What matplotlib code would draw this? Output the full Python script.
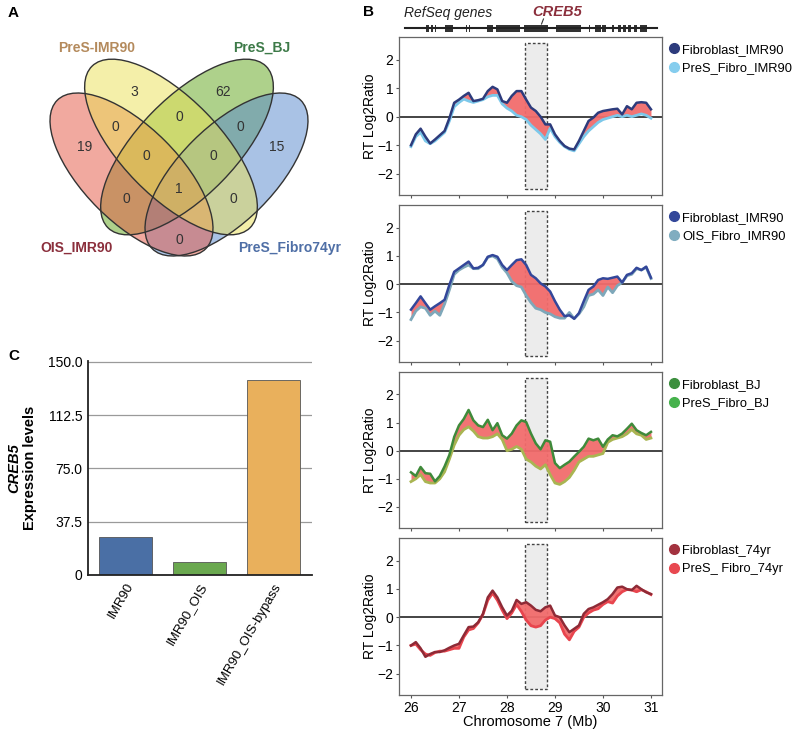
import numpy as np
import matplotlib.pyplot as plt
from matplotlib.patches import Ellipse, Rectangle
from matplotlib.lines import Line2D

plt.rcParams['font.family'] = ['Liberation Sans', 'DejaVu Sans']

# ---------------- Panel A: Venn counts ----------------
venn_names = ['PreS-IMR90', 'PreS_BJ', 'OIS_IMR90', 'PreS_Fibro74yr']
venn_counts = [3, 62, 0, 0, 0, 19, 0, 0, 15, 1, 0, 0, 0]

# ---------------- Panel C: CREB5 expression ----------------
bar_labels = ['IMR90', 'IMR90_OIS', 'IMR90_OIS-bypass']
bar_values = [27.0, 9.0, 137.3]

# ---------------- Panel B: replication timing ----------------
chrom_pos = np.linspace(26, 31, 51)

fibro_imr90_a = [-1.0, -0.62, -0.42, -0.7, -0.94, -0.8, -0.65, -0.5, -0.05, 0.49,
                 0.6, 0.73, 0.84, 0.55, 0.58, 0.63, 0.9, 1.05, 0.96, 0.55,
                 0.49, 0.73, 0.9, 0.9, 0.6, 0.32, 0.2, 0.0, -0.27, -0.27,
                 -0.62, -0.85, -1.03, -1.12, -1.15, -0.85, -0.5, -0.15, -0.03, 0.14,
                 0.2, 0.23, 0.26, 0.28, 0.08, 0.37, 0.26, 0.49, 0.51, 0.49, 0.26]
pres_imr90 = [-1.05, -0.7, -0.55, -0.85, -0.95, -0.85, -0.7, -0.55, -0.15, 0.35,
              0.5, 0.62, 0.55, 0.5, 0.55, 0.6, 0.7, 0.75, 0.75, 0.45,
              0.3, 0.2, 0.05, 0.0, -0.1, -0.3, -0.45, -0.6, -0.8, -0.4,
              -0.7, -0.9, -1.05, -1.15, -1.2, -0.95, -0.7, -0.5, -0.35, -0.2,
              -0.1, -0.05, 0.0, 0.05, 0.0, 0.05, 0.0, 0.05, 0.1, 0.05, -0.05]

fibro_imr90_b = [-0.9, -0.67, -0.43, -0.67, -0.9, -0.78, -0.67, -0.55, -0.02, 0.44,
                 0.56, 0.68, 0.8, 0.56, 0.58, 0.68, 0.97, 1.03, 0.97, 0.68,
                 0.5, 0.68, 0.85, 0.88, 0.68, 0.33, 0.21, 0.03, -0.08, -0.26,
                 -0.6, -0.9, -1.13, -1.1, -1.22, -1.02, -0.6, -0.2, -0.08, 0.15,
                 0.21, 0.19, 0.23, 0.27, 0.06, 0.33, 0.39, 0.58, 0.5, 0.62, 0.23]
ois_imr90 = [-1.25, -0.95, -0.8, -0.85, -1.1, -0.95, -1.1, -0.7, -0.2, 0.35,
             0.5, 0.6, 0.68, 0.55, 0.55, 0.68, 0.95, 1.0, 0.9, 0.6,
             0.4, 0.1, -0.05, -0.1, -0.4, -0.65, -0.85, -0.9, -1.0, -1.05,
             -1.15, -1.2, -1.2, -1.0, -1.22, -1.05, -0.8, -0.4, -0.35, -0.2,
             -0.4, -0.1, -0.3, -0.05, 0.06, 0.3, 0.35, 0.55, 0.5, 0.6, 0.2]

fibro_bj = [-0.77, -0.9, -0.58, -0.8, -0.82, -1.09, -0.9, -0.56, -0.15, 0.49,
            0.9, 1.13, 1.45, 1.08, 0.9, 0.84, 1.1, 0.73, 0.98, 0.55,
            0.43, 0.61, 0.9, 1.08, 1.02, 0.61, 0.26, 0.05, 0.37, 0.32,
            -0.44, -0.62, -0.5, -0.39, -0.21, -0.04, 0.14, 0.43, 0.37, 0.43,
            0.14, 0.4, 0.55, 0.51, 0.61, 0.78, 0.96, 0.73, 0.63, 0.55, 0.67]
pres_bj = [-1.1, -1.0, -0.85, -1.1, -1.15, -1.15, -1.0, -0.75, -0.3, 0.2,
           0.55, 0.75, 0.85, 0.7, 0.5, 0.45, 0.45, 0.5, 0.6, 0.4,
           0.0, 0.05, 0.15, 0.05, -0.3, -0.4, -0.55, -0.65, -0.5, -0.85,
           -1.15, -1.2, -1.1, -0.95, -0.7, -0.4, -0.3, -0.2, -0.2, -0.15,
           -0.1, 0.3, 0.4, 0.45, 0.5, 0.6, 0.75, 0.6, 0.55, 0.4, 0.45]

fibro_74 = [-1.0, -0.88, -1.1, -1.4, -1.3, -1.23, -1.23, -1.17, -1.08, -1.0,
            -0.94, -0.64, -0.35, -0.33, -0.18, 0.12, 0.7, 0.94, 0.7, 0.35,
            0.06, 0.23, 0.61, 0.47, 0.53, 0.41, 0.26, 0.21, 0.35, 0.41,
            0.06, 0.0, -0.29, -0.53, -0.41, -0.29, 0.12, 0.29, 0.35, 0.44,
            0.53, 0.64, 0.82, 1.05, 1.08, 0.99, 0.96, 1.11, 0.99, 0.88, 0.82]
pres_74 = [-1.0, -0.95, -1.15, -1.3, -1.35, -1.25, -1.2, -1.2, -1.15, -1.1,
           -1.1, -0.7, -0.45, -0.4, -0.2, 0.1, 0.6, 0.85, 0.6, 0.25,
           -0.05, 0.15, 0.45, 0.2, -0.1, -0.3, -0.35, -0.3, -0.1, 0.0,
           -0.05, -0.2, -0.6, -0.8, -0.5, -0.35, 0.0, 0.15, 0.25, 0.3,
           0.45, 0.55, 0.5, 0.75, 0.9, 0.98, 0.96, 0.9, 0.97, 0.9, 0.8]

# RefSeq gene blocks (Mb)
gene_starts = [26.31, 26.41, 26.49, 26.70, 27.14, 27.20, 27.58, 27.78, 28.36, 29.03,
               29.71, 29.83, 29.99, 30.18, 30.32, 30.42, 30.52, 30.64, 30.77]
gene_ends = [26.38, 26.46, 26.53, 26.88, 27.17, 27.23, 27.70, 28.28, 28.85, 29.55,
             29.73, 29.95, 30.07, 30.23, 30.38, 30.49, 30.59, 30.71, 30.91]
creb5_region = (28.37, 28.83)

fig = plt.figure(figsize=(8, 7.29), dpi=100)
H = 729.0

# ================= Panel A =================
axA = fig.add_axes([0, 1 - 330 / H, 0.5, 330 / H])
axA.set_xlim(0, 400)
axA.set_ylim(330, 0)
axA.axis('off')
# drawn in this order so the overlaps blend warm like the original
ell_specs = [  # (center, width, height, angle, color)
    ((187, 147), 226, 98, -45.7, '#5fa519'),
    ((226.5, 174.5), 210, 95, -45, '#5587cd'),
    ((131.5, 174.5), 210, 95, 45, '#e55541'),
    ((171, 147), 226, 98, 45.7, '#ebe155'),
]
for c, w, h, ang, col in ell_specs:
    axA.add_patch(Ellipse(c, w, h, angle=ang, facecolor=col, alpha=0.5,
                          edgecolor='none'))
for c, w, h, ang, col in ell_specs:
    axA.add_patch(Ellipse(c, w, h, angle=ang, facecolor='none',
                          edgecolor='#333333', lw=1.0))
count_pos = [(134, 92), (223, 92), (115, 127), (179, 117), (240, 127), (85, 147),
             (146, 156), (213, 156), (277, 147), (179, 189), (126, 199), (233, 199),
             (179, 240)]
for (px, py), c in zip(count_pos, venn_counts):
    axA.text(px, py, str(c), ha='center', va='center', fontsize=10, color='#333333')
name_pos = [(97, 48), (262, 48), (77, 248), (290, 248)]
name_col = ['#b48a5c', '#3d7a48', '#8b2f3c', '#4f6fa6']
for (px, py), n, c in zip(name_pos, venn_names, name_col):
    axA.text(px, py, n, ha='center', va='center', fontsize=10, fontweight='bold', color=c)

# ================= Panel C =================
axC = fig.add_axes([88 / 800, 1 - 575 / H, 224 / 800, 214 / H])
xpos = np.arange(len(bar_values))
bar_cols = ['#4a6fa5', '#6aa84f', '#e9b05c']
axC.set_axisbelow(True)
axC.yaxis.grid(True, color='#9a9a9a', lw=0.9)
axC.bar(xpos, bar_values, width=0.72, color=bar_cols, edgecolor='#555555', lw=0.6)
axC.set_xlim(-0.51, 2.52)
axC.set_ylim(0, 150.5)
axC.set_yticks([0, 37.5, 75, 112.5, 150])
axC.set_yticklabels(['0', '37.5', '75.0', '112.5', '150.0'], fontsize=10)
axC.set_xticks(xpos)
axC.set_xticklabels(bar_labels, rotation=60, ha='right', rotation_mode='anchor',
                    fontsize=9.5)
axC.tick_params(axis='both', length=0, pad=4)
for s in ['top', 'right']:
    axC.spines[s].set_visible(False)
for s in ['left', 'bottom']:
    axC.spines[s].set_color('#222222')
    axC.spines[s].set_linewidth(1.3)
axC.text(-0.33, 0.5, 'CREB5', transform=axC.transAxes, rotation=90, ha='center',
         va='center', fontsize=10.5, fontweight='bold', fontstyle='italic')
axC.text(-0.26, 0.5, 'Expression levels', transform=axC.transAxes, rotation=90,
         ha='center', va='center', fontsize=10.5, fontweight='bold')

# ================= Panel B =================
xlim = (25.75, 31.23)
panels = [
    (fibro_imr90_a, pres_imr90, 'Fibroblast_IMR90', 'PreS_Fibro_IMR90',
     '#2d3b7c', '#7cc8ea', '#2d3b7c', '#85cdee', 37, 195),
    (fibro_imr90_b, ois_imr90, 'Fibroblast_IMR90', 'OIS_Fibro_IMR90',
     '#33479a', '#7ea8ba', '#33479a', '#80adc0', 205, 362),
    (fibro_bj, pres_bj, 'Fibroblast_BJ', 'PreS_Fibro_BJ',
     '#3f8a3a', '#a9b552', '#3c8f3e', '#46b24c', 372, 528),
    (fibro_74, pres_74, 'Fibroblast_74yr', 'PreS_ Fibro_74yr',
     '#8e2a36', '#e8454e', '#a3323f', '#e84850', 538, 695),
]
for i, (top, bot, ltop, lbot, ctop, cbot, mtop, mbot, y0, y1) in enumerate(panels):
    ax = fig.add_axes([399 / 800, 1 - y1 / H, 263 / 800, (y1 - y0) / H])
    ax.add_patch(Rectangle((creb5_region[0], -2.55), creb5_region[1] - creb5_region[0],
                           5.15, facecolor='#ececec', edgecolor='#444444', lw=1.0,
                           ls=(0, (2, 1.5)), zorder=1))
    ax.axhline(0, color='#111111', lw=1.1, zorder=2)
    ax.fill_between(chrom_pos, top, bot, color='#f26c6c', alpha=0.95, lw=0, zorder=3)
    ax.plot(chrom_pos, bot, color=cbot, lw=2.0, zorder=4)
    ax.plot(chrom_pos, top, color=ctop, lw=1.8, zorder=5)
    ax.set_xlim(*xlim)
    ax.set_ylim(-2.75, 2.8)
    ax.set_yticks([-2, -1, 0, 1, 2])
    ax.set_yticklabels(['\u22122', '\u22121', '0', '1', '2'], fontsize=10)
    ax.set_xticks([26, 27, 28, 29, 30, 31])
    ax.tick_params(axis='both', length=2.5, width=0.8, color='#555555', pad=1.5)
    ax.set_ylabel('RT Log2Ratio', fontsize=10, labelpad=0)
    for s in ax.spines.values():
        s.set_color('#666666')
        s.set_linewidth(0.9)
    if i < 3:
        ax.set_xticklabels([])
    else:
        ax.set_xticklabels(['26', '27', '28', '29', '30', '31'], fontsize=10)
        ax.set_xlabel('Chromosome 7 (Mb)', fontsize=10.5, labelpad=0)
    handles = [Line2D([], [], marker='o', ls='none', color=mtop, markersize=7),
               Line2D([], [], marker='o', ls='none', color=mbot, markersize=7)]
    ax.legend(handles, [ltop, lbot], loc='upper left', bbox_to_anchor=(1.0, 0.99),
              frameon=False, fontsize=9.3, handletextpad=0.15, labelspacing=0.5,
              borderaxespad=0.0, handlelength=1.0)

# gene track
axG = fig.add_axes([399 / 800, 1 - 37 / H, 263 / 800, 37 / H])
axG.set_xlim(*xlim)
axG.set_ylim(37, 0)
axG.axis('off')
axG.plot([25.87, 31.13], [28, 28], color='#222222', lw=1.5)
for s, e in zip(gene_starts, gene_ends):
    axG.add_patch(Rectangle((s, 24.5), e - s, 7, facecolor='#333333', edgecolor='none'))
axG.text(25.85, 13, 'RefSeq genes', fontsize=10, fontstyle='italic', ha='left',
         va='center', color='#222222')
axG.text(29.05, 12, 'CREB5', fontsize=10.5, fontstyle='italic', fontweight='bold',
         ha='center', va='center', color='#8b2f3c')
axG.plot([28.72, 28.76], [24, 19], color='#333333', lw=0.8)

# panel letters
fig.text(8 / 800, 1 - 13 / H, 'A', fontsize=11, fontweight='bold', va='center')
fig.text(363 / 800, 1 - 12 / H, 'B', fontsize=11, fontweight='bold', va='center')
fig.text(8 / 800, 1 - 356 / H, 'C', fontsize=11, fontweight='bold', va='center')

fig.savefig('out.png', dpi=100)
